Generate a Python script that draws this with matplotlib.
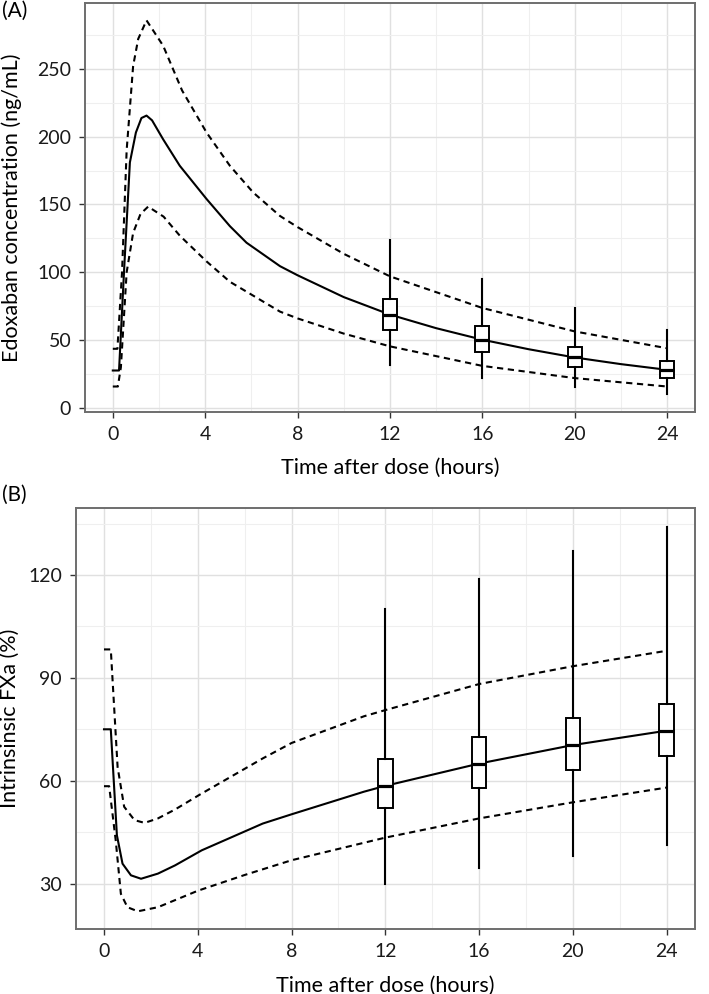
import numpy as np
import matplotlib.pyplot as plt
from matplotlib.ticker import MultipleLocator

plt.rcParams['font.family'] = ['Lato', 'DejaVu Sans']

# --- Panel A: edoxaban concentration (ng/mL) ---
a_t_med = [0, 0.27, 0.5, 0.74, 1.0, 1.24, 1.46, 1.7, 2.18, 2.9, 4.06, 5.07, 5.79, 7.24,
           8, 10, 12, 14, 16, 18, 20, 22, 24]
a_med = [27.6, 27.6, 105, 181, 203, 213.7, 215.5, 212, 198, 178.5, 154, 134, 121.8, 104.5,
         97.8, 81.7, 68.8, 58.8, 50.3, 43.3, 37.2, 32.3, 28.1]

a_t_hi = [0, 0.2, 0.4, 0.6, 0.88, 1.1, 1.46, 2.18, 3.0, 4.06, 5.07, 6.08, 7.24,
          8, 10, 12, 16, 20, 24]
a_hi = [43.6, 43.6, 100, 190, 252, 272, 285.7, 267, 234, 203, 178.5, 158.8, 141.5,
        133.3, 113.6, 97, 73.7, 56.4, 44]

a_t_lo = [0, 0.22, 0.35, 0.6, 0.88, 1.2, 1.53, 2.2, 2.9, 4.06, 5.07, 7.24,
          8, 10, 12, 16, 20, 24]
a_lo = [15.8, 15.8, 30, 100, 129, 143, 148.4, 141, 127, 108, 93, 71,
        66, 54.8, 45.4, 31, 22, 15.8]

a_box_t = [12, 16, 20, 24]
a_box_q1 = [57.2, 41.6, 30.1, 22.0]
a_box_med = [68.8, 50.3, 37.2, 28.1]
a_box_q3 = [80.4, 60.1, 44.9, 34.3]
a_box_lo = [31.8, 22.4, 15.8, 10.1]
a_box_hi = [123.5, 95.4, 73.7, 57.7]

# --- Panel B: intrinsic FXa (%) ---
b_t_med = [0, 0.29, 0.55, 0.79, 1.15, 1.58, 2.3, 3.03, 4.17, 6.77, 8, 11.09, 12, 16, 20, 24]
b_med = [75, 75, 44.1, 35.8, 32.4, 31.4, 32.9, 35.3, 39.7, 47.5, 50.2, 56.8, 58.5, 65, 70.4, 74.6]

b_t_hi = [0, 0.29, 0.58, 0.86, 1.3, 1.73, 2.3, 3.03, 4.1, 6.77, 8, 11.09, 12, 16, 20, 24]
b_hi = [98.3, 98.3, 64, 52.4, 48.5, 47.7, 49, 51.6, 56, 66.5, 71, 78.8, 80.6, 88.2, 93.4, 97.9]

b_t_lo = [0, 0.22, 0.5, 0.72, 1.0, 1.44, 2.3, 4.0, 6, 8, 11.09, 12, 16, 20, 24]
b_lo = [58.4, 58.4, 42.6, 27, 23.1, 21.9, 23.1, 27.9, 32.5, 36.8, 41.9, 43.4, 49, 53.7, 58]

b_box_t = [12, 16, 20, 24]
b_box_q1 = [51.9, 57.8, 63.1, 67.3]
b_box_med = [58.5, 65.0, 70.4, 74.6]
b_box_q3 = [66.2, 72.8, 78.2, 82.5]
b_box_lo = [30.0, 34.4, 38.1, 41.2]
b_box_hi = [110, 118.7, 127, 134]

xticks = [0, 4, 8, 12, 16, 20, 24]


def style_axes(ax):
    ax.set_facecolor('white')
    ax.grid(True, which='major', color='#e0e0e0', linewidth=1.0, zorder=0)
    ax.grid(True, which='minor', color='#efefef', linewidth=0.8, zorder=0)
    ax.set_axisbelow(True)
    for s in ax.spines.values():
        s.set_color('#6e6e6e')
        s.set_linewidth(1.4)
    ax.tick_params(which='major', direction='out', length=4, width=1.0,
                   color='#333333', labelsize=14, labelcolor='#1a1a1a', pad=6)
    ax.tick_params(which='minor', length=0)
    ax.set_xticks(xticks)
    ax.xaxis.set_minor_locator(MultipleLocator(2))
    ax.set_xlim(-1.2, 25.2)


def draw_panel(ax, tm, med, th, hi, tl, lo, bt, q1, bm, q3, wl, wh):
    ax.plot(tm, med, color='black', lw=1.5, zorder=3)
    ax.plot(th, hi, color='black', lw=1.5, ls=(0, (3, 2.2)), zorder=3)
    ax.plot(tl, lo, color='black', lw=1.5, ls=(0, (3, 2.2)), zorder=3)
    stats = [dict(med=m, q1=a, q3=b, whislo=l, whishi=h, fliers=[])
             for a, m, b, l, h in zip(q1, bm, q3, wl, wh)]
    ax.bxp(stats, positions=bt, widths=0.62, showfliers=False, showcaps=False,
           patch_artist=True, manage_ticks=False,
           boxprops=dict(facecolor='white', edgecolor='black', linewidth=1.4),
           medianprops=dict(color='black', linewidth=2.3),
           whiskerprops=dict(color='black', linewidth=1.5), zorder=4)


fig = plt.figure(figsize=(7.09, 9.94), dpi=100)

axA = fig.add_axes([0.120, 0.5855, 0.860, 0.4115])
style_axes(axA)
draw_panel(axA, a_t_med, a_med, a_t_hi, a_hi, a_t_lo, a_lo,
           a_box_t, a_box_q1, a_box_med, a_box_q3, a_box_lo, a_box_hi)
axA.set_ylim(-3, 298.5)
axA.set_yticks([0, 50, 100, 150, 200, 250])
axA.yaxis.set_minor_locator(MultipleLocator(25))
axA.set_xlabel('Time after dose (hours)', fontsize=15.5, labelpad=11)
axA.set_ylabel('Edoxaban concentration (ng/mL)', fontsize=15.5)
axA.yaxis.set_label_coords(-0.103, 0.5)

axB = fig.add_axes([0.107, 0.0649, 0.873, 0.4242])
style_axes(axB)
draw_panel(axB, b_t_med, b_med, b_t_hi, b_hi, b_t_lo, b_lo,
           b_box_t, b_box_q1, b_box_med, b_box_q3, b_box_lo, b_box_hi)
axB.set_ylim(16.6, 139.6)
axB.set_yticks([30, 60, 90, 120])
axB.yaxis.set_minor_locator(MultipleLocator(15))
axB.set_xlabel('Time after dose (hours)', fontsize=15.5, labelpad=11)
axB.set_ylabel('Intrinsinsic FXa (%)', fontsize=15.5)
axB.yaxis.set_label_coords(-0.09, 0.5)

fig.text(0.003, 0.999, '(A)', fontsize=15, ha='left', va='top')
fig.text(0.003, 0.512, '(B)', fontsize=15, ha='left', va='top')

fig.savefig('out.png', dpi=100)
